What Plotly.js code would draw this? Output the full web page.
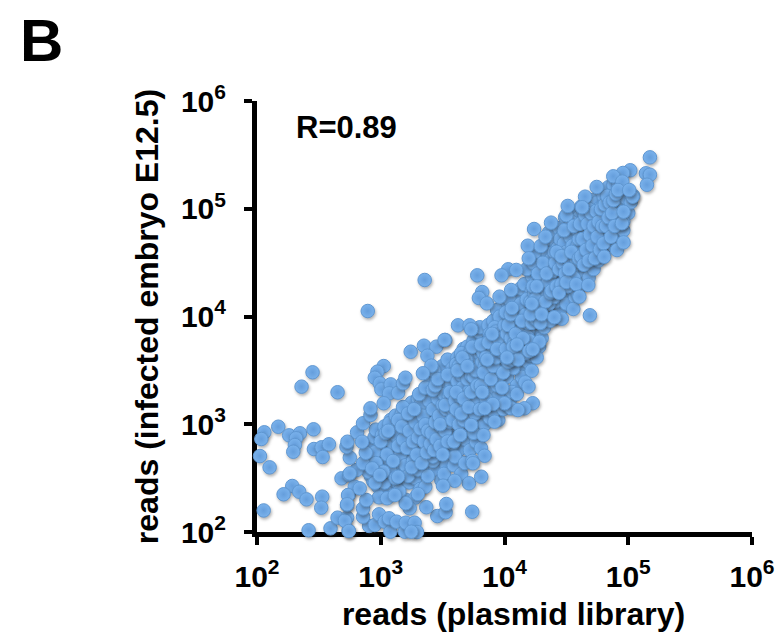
<!DOCTYPE html>
<html>
<head>
<meta charset="utf-8">
<script src="https://cdn.plot.ly/plotly-3.0.1.min.js"></script>
<style>
html,body{margin:0;padding:0;background:#fff}
#chart{width:778px;height:633px}
.scatterlayer path.point{filter:drop-shadow(1px 2px 1.6px rgba(40,40,40,.36))}
</style>
</head>
<body>
<div id="chart"></div>
<script>
// log10(reads), plasmid library (x) and infected embryo E12.5 (y)
const outlierPlasmidLog = [
2.449,2.360,2.651,2.172,2.059,2.035,2.260,2.347,2.315,2.306,2.293,2.457,2.460,2.522,2.581,2.530,2.024,2.102,2.285,2.215,
2.341,2.400,2.527,2.519,2.054,2.417,2.594,2.740,2.651,2.728,2.710,2.728,2.740,2.683,2.745,2.804,2.790,2.750,2.723,2.731,
2.809,2.857,2.917,2.917,3.024,2.973,2.952,2.992,3.005,3.080,3.067,3.140,3.180,3.199,3.024,3.242,3.349,3.449,3.521,3.377,
3.409,3.341,3.355,2.895,3.780,5.175,5.143,5.175,5.151,5.016,4.957,4.879,4.952,4.745,4.917,4.651,4.511,4.627,4.376,4.239,
4.188,4.293,4.331,4.196,4.030,4.095,3.976,3.820,3.793,3.857,3.960,4.054,3.624,3.718,3.731,3.516,4.690,4.556,4.677,4.463,
4.403,4.605,4.806,4.909,4.962,4.949,4.962,5.035,5.008,4.282,4.228,4.220,4.167,4.194,4.228,4.161,4.054,4.108,4.000,3.906,
3.919,3.839,3.731,3.642,3.739,3.457,3.524,3.530,3.368,3.234,3.202,3.300,2.986,3.051,3.113,3.140,2.952,3.713,3.812,3.839,
3.745,3.597,3.503,2.742,2.906,2.857,2.857,2.884,2.952,2.986,3.032,3.078,3.067,3.127,3.194,3.202,3.274,3.293,3.247,2.736,
2.728,2.750,2.830,2.857,2.930,2.992,2.879,2.849];
const outlierEmbryoLog = [
3.482,3.349,3.297,2.977,2.925,2.863,2.897,2.916,2.870,2.807,2.745,2.953,2.770,2.786,2.814,2.696,2.705,2.600,2.427,2.350,
2.374,2.303,2.328,2.226,2.200,2.016,2.034,2.012,2.133,2.133,2.105,2.250,2.343,2.498,2.529,2.575,2.420,2.690,2.792,2.838,
2.925,3.009,3.086,3.148,3.540,3.488,3.432,3.380,3.324,3.370,3.287,3.293,3.380,3.432,3.195,3.673,3.729,3.720,3.782,3.636,
3.544,3.473,4.339,4.051,4.382,5.477,5.329,5.316,5.223,5.357,5.332,5.301,5.252,5.202,5.174,5.112,5.026,5.014,4.871,4.812,
4.657,4.654,4.741,4.540,4.438,4.432,4.382,4.227,4.172,4.122,4.184,4.246,3.918,3.918,3.881,3.782,4.011,4.070,4.292,3.980,
3.993,4.184,4.555,4.617,4.688,4.865,4.973,5.112,5.174,3.766,3.696,3.497,3.389,3.349,3.195,3.148,3.148,3.132,3.195,3.188,
3.024,3.148,2.993,2.900,2.188,2.148,2.183,2.260,2.230,2.220,2.267,2.353,2.322,2.313,2.343,2.513,2.458,2.452,2.513,2.708,
2.638,2.476,2.430,2.009,2.056,2.142,2.219,2.297,2.065,2.164,2.096,2.003,2.127,2.096,2.003,2.086,2.086,2.000,2.003,2.343,
2.257,2.544,2.405,2.638,2.591,2.529,2.736,2.838];

const corePlasmidLog = [
2.88,2.90,2.93,2.95,2.97,2.99,2.92,2.96,3.00,2.94,2.98,3.01,
3.02,3.03,3.04,3.05,3.06,3.07,3.08,3.09,3.10,3.11,3.12,3.04,3.07,3.10,3.03,3.12,
3.13,3.14,3.15,3.16,3.17,3.18,3.19,3.20,3.21,3.22,3.23,3.24,3.25,3.15,3.18,3.21,3.24,3.14,
3.26,3.27,3.28,3.29,3.30,3.31,3.32,3.33,3.34,3.35,3.36,3.37,3.38,3.39,3.40,3.28,3.32,3.36,3.27,3.31,3.35,3.39,
3.41,3.42,3.43,3.44,3.45,3.46,3.47,3.48,3.49,3.50,3.51,3.52,3.53,3.54,3.55,3.43,3.46,3.49,3.52,3.55,3.42,3.45,3.48,3.51,3.54,
3.56,3.57,3.58,3.59,3.60,3.61,3.62,3.63,3.64,3.65,3.66,3.67,3.68,3.69,3.70,3.58,3.61,3.64,3.67,3.70,3.57,3.60,3.63,3.66,3.69,3.59,3.62,3.65,3.68,
3.71,3.72,3.73,3.74,3.75,3.76,3.77,3.78,3.79,3.80,3.81,3.82,3.83,3.84,3.85,3.72,3.75,3.78,3.81,3.84,3.73,3.76,3.79,3.82,3.85,3.74,3.77,3.80,3.83,
3.86,3.87,3.88,3.89,3.90,3.91,3.92,3.93,3.94,3.95,3.96,3.97,3.98,3.99,4.00,3.88,3.91,3.94,3.97,4.00,3.87,3.90,3.93,3.96,3.99,3.89,3.92,3.95,3.98,
4.01,4.02,4.03,4.04,4.05,4.06,4.07,4.08,4.09,4.10,4.11,4.12,4.13,4.14,4.15,4.03,4.06,4.09,4.12,4.15,4.02,4.05,4.08,4.11,4.14,4.04,4.07,4.10,4.13,
4.16,4.17,4.18,4.19,4.20,4.21,4.22,4.23,4.24,4.25,4.26,4.27,4.28,4.29,4.30,4.18,4.21,4.24,4.27,4.30,4.17,4.20,4.23,4.26,4.29,4.19,4.22,4.25,4.28,
4.31,4.32,4.33,4.34,4.35,4.36,4.37,4.38,4.39,4.40,4.41,4.42,4.43,4.44,4.45,4.33,4.36,4.39,4.42,4.45,4.32,4.35,4.38,4.41,4.44,4.34,4.37,4.40,4.43,
4.46,4.47,4.48,4.49,4.50,4.51,4.52,4.53,4.54,4.55,4.56,4.57,4.58,4.59,4.60,4.48,4.51,4.54,4.57,4.60,4.47,4.50,4.53,4.56,4.59,
4.61,4.62,4.63,4.64,4.65,4.66,4.67,4.68,4.69,4.70,4.71,4.72,4.73,4.74,4.75,4.76,4.77,4.78,4.79,4.80,4.64,4.68,4.72,4.76,4.80,
4.81,4.82,4.83,4.84,4.85,4.86,4.87,4.88,4.89,4.90,4.91,4.92,4.93,4.94,4.95,4.96,4.97,4.98,5.00,5.02,5.04,4.84,4.88,4.92,4.96];
const coreEmbryoLog = [
2.66,2.82,2.72,2.88,2.60,2.78,2.52,2.95,2.68,2.47,2.42,2.90,
2.62,2.98,2.78,2.50,2.86,2.68,3.04,2.40,2.92,2.58,2.74,2.38,3.01,2.82,2.46,3.08,
2.96,2.64,2.44,2.84,3.10,2.54,2.74,2.30,3.00,2.90,2.46,2.68,3.20,2.38,3.16,2.58,2.80,3.04,
3.08,2.86,2.50,2.96,3.24,2.66,2.40,3.02,2.78,3.30,2.56,2.90,3.14,2.70,3.38,2.32,3.18,2.42,2.74,2.92,2.62,3.00,
3.06,2.84,3.26,2.58,3.44,2.96,2.70,3.16,2.48,3.54,2.88,3.34,2.62,3.08,2.76,3.50,2.86,3.22,3.00,3.42,2.66,3.12,3.36,2.54,3.60,
3.20,2.92,3.52,2.62,3.32,3.04,3.62,2.76,3.44,2.54,3.12,3.70,2.86,3.26,2.96,2.82,3.56,3.18,3.40,3.72,3.10,2.70,3.36,3.50,3.06,3.00,3.24,3.66,2.64,
3.42,2.76,3.58,3.16,3.78,3.30,2.84,3.66,3.02,3.50,2.78,3.82,3.24,3.40,3.74,3.10,2.92,3.48,3.62,3.00,3.70,3.22,3.86,3.12,3.54,2.66,3.36,3.90,2.90,
3.30,3.92,3.06,3.66,3.46,3.96,3.18,3.74,3.56,3.04,3.88,3.38,4.02,3.62,3.28,3.84,3.12,4.06,3.50,3.78,3.20,3.70,3.42,4.00,3.14,3.54,3.90,3.26,3.68,
3.92,3.44,4.10,3.68,3.24,3.86,4.14,3.56,3.98,3.36,3.76,4.20,3.50,4.04,3.66,3.82,3.30,4.22,3.62,3.94,3.18,3.72,4.06,3.90,3.44,4.16,3.52,3.28,4.26,
4.30,3.80,4.00,3.58,4.18,3.90,4.38,3.70,4.10,3.84,4.46,3.96,3.72,4.24,4.52,4.44,3.64,4.30,4.06,3.80,4.12,3.98,4.50,3.62,4.36,3.88,4.24,4.60,4.04,
4.16,3.90,4.42,4.66,4.02,4.28,4.72,4.10,4.54,3.98,4.36,4.78,4.20,4.62,4.06,4.50,4.78,4.24,4.68,4.44,4.00,4.58,4.34,4.14,4.82,4.08,3.96,4.48,4.30,
4.74,4.22,4.56,4.92,4.12,4.40,4.84,4.64,4.26,4.96,4.48,4.18,4.78,4.36,4.92,4.32,4.70,4.88,4.58,4.42,4.60,4.94,4.30,4.72,4.22,
4.66,5.02,4.30,4.84,4.48,5.04,4.74,4.36,4.92,4.58,5.08,4.44,4.80,4.62,5.06,4.52,4.90,4.72,4.58,5.12,4.98,5.00,4.96,5.00,4.86,
4.64,4.98,4.78,5.10,4.70,4.90,5.16,4.66,5.02,4.82,5.14,4.74,5.06,4.92,5.18,4.80,5.02,5.10,4.96,5.06,5.12,5.20,5.22,5.24,4.88];

const ridgePlasmidLog = [
2.90,2.95,3.00,3.05,3.08,3.12,3.16,3.20,3.24,3.28,3.04,3.10,3.14,3.18,3.22,3.26,3.30,3.34,3.38,3.42,2.96,3.02,3.06,3.12,3.17,
3.21,3.23,3.25,3.26,3.28,3.29,3.30,3.32,3.33,3.34,3.35,3.36,3.37,3.38,3.39,3.40,3.22,3.27,3.31,3.36,
3.41,3.42,3.43,3.44,3.45,3.46,3.47,3.48,3.49,3.50,3.51,3.52,3.53,3.54,3.55,3.56,3.57,3.58,3.59,3.60,3.42,3.44,3.46,3.48,3.50,3.52,3.54,3.56,3.58,3.60,
3.61,3.62,3.63,3.64,3.65,3.66,3.67,3.68,3.69,3.70,3.71,3.72,3.73,3.74,3.75,3.76,3.77,3.78,3.79,3.80,3.61,3.63,3.65,3.67,3.69,3.71,3.73,3.75,3.77,3.79,3.62,3.66,3.70,3.74,3.78,3.80,
3.81,3.82,3.83,3.84,3.85,3.86,3.87,3.88,3.89,3.90,3.91,3.92,3.93,3.94,3.95,3.96,3.97,3.98,3.99,4.00,3.81,3.83,3.85,3.87,3.89,3.91,3.93,3.95,3.97,3.99,3.82,3.86,3.90,3.94,3.98,4.00,
4.01,4.02,4.03,4.04,4.05,4.06,4.07,4.08,4.09,4.10,4.11,4.12,4.13,4.14,4.15,4.16,4.17,4.18,4.19,4.20,4.01,4.03,4.05,4.07,4.09,4.11,4.13,4.15,4.17,4.19,4.02,4.06,4.10,4.14,4.18,4.20,
4.21,4.22,4.23,4.24,4.25,4.26,4.27,4.28,4.29,4.30,4.31,4.32,4.33,4.34,4.35,4.36,4.37,4.38,4.39,4.40,4.21,4.23,4.25,4.27,4.29,4.31,4.33,4.35,4.37,4.39,4.22,4.26,4.30,4.34,4.38,4.40,
4.41,4.42,4.43,4.44,4.45,4.46,4.47,4.48,4.49,4.50,4.51,4.52,4.53,4.54,4.55,4.56,4.57,4.58,4.59,4.60,4.42,4.44,4.46,4.48,4.50,4.52,4.54,4.56,4.58,4.60,
4.61,4.62,4.63,4.64,4.65,4.66,4.67,4.68,4.69,4.70,4.71,4.72,4.73,4.74,4.75,4.76,4.77,4.78,4.79,4.80,4.81,4.82,4.83,4.84,4.85,4.86,4.87,4.88,4.89,4.90];
const ridgeEmbryoLog = [
2.56,2.74,2.84,2.72,2.56,2.90,2.72,2.62,2.92,2.76,2.92,2.66,2.80,2.86,2.52,2.66,2.58,2.90,2.52,2.70,2.64,2.56,2.94,2.50,2.98,
2.78,2.94,2.60,2.84,3.02,2.72,2.88,2.96,2.64,3.08,2.84,3.00,2.74,2.94,3.22,2.82,3.10,3.14,3.28,3.34,
2.92,3.14,2.76,3.02,2.86,3.24,3.08,2.80,2.98,3.18,3.28,2.94,3.14,2.84,3.26,3.02,3.38,3.14,2.84,3.46,3.32,3.36,3.42,3.00,2.72,3.18,3.46,3.30,3.04,3.22,
3.14,3.40,3.00,3.26,3.46,3.34,3.04,3.54,3.18,3.42,3.30,3.66,3.46,3.30,3.56,3.10,3.62,3.24,3.40,3.66,3.30,3.54,3.10,3.24,3.60,3.16,3.30,3.44,3.50,3.72,3.50,3.62,3.54,3.72,3.36,3.14,
3.36,3.58,3.66,3.54,3.24,3.76,3.50,3.60,3.82,3.58,3.70,3.44,3.86,3.36,3.72,3.46,3.84,3.58,3.78,3.62,3.74,3.48,3.62,3.76,3.42,3.54,3.62,3.80,3.68,3.48,3.30,3.60,3.84,3.70,3.34,3.92,
3.70,3.84,3.58,3.96,3.80,3.60,3.90,3.76,3.64,4.02,3.86,3.98,3.70,3.84,4.08,3.92,3.66,3.82,4.12,3.78,4.04,3.92,4.02,3.72,3.84,3.60,4.12,3.80,4.02,3.94,3.62,4.08,3.74,3.96,4.16,3.68,
4.14,3.94,4.06,4.22,3.98,4.18,4.30,4.12,3.94,4.24,4.36,4.10,4.26,4.18,4.48,4.12,4.38,4.54,4.30,4.18,4.02,4.28,4.16,4.40,4.08,4.50,4.14,4.32,4.22,4.42,4.12,4.28,4.02,4.40,4.24,4.60,
4.50,4.28,4.64,4.44,4.72,4.30,4.50,4.68,4.40,4.60,4.28,4.54,4.74,4.44,4.66,4.36,4.82,4.52,4.66,4.72,4.60,4.22,4.56,4.80,4.32,4.44,4.60,4.84,4.30,4.54,
4.86,4.56,4.72,4.48,4.94,4.62,4.86,4.52,4.76,4.96,4.66,4.84,4.54,4.98,4.74,4.88,4.62,5.00,4.84,4.68,5.04,4.84,5.12,4.92,5.06,4.74,4.96,5.08,4.84,5.14];

const tickValues = [100,1000,10000,100000,1000000];
const tickLabels = ['10<sup>2</sup>','10<sup>3</sup>','10<sup>4</sup>','10<sup>5</sup>','10<sup>6</sup>'];

const toReads = a => a.map(v => Math.pow(10, v));
const FONT = '"Liberation Sans", Arial, sans-serif';
const textFont = s => ({family: FONT, size: s, color: '#000', weight: 700});

const axis = {
  type: 'log', range: [2, 6], tickmode: 'array', tickvals: tickValues, ticktext: tickLabels,
  ticks: 'outside', ticklen: 8, tickwidth: 4, tickcolor: '#000',
  showline: true, linecolor: '#000', linewidth: 5, showgrid: false, zeroline: false,
  layer: 'below traces', tickfont: textFont(30), automargin: false
};

const trace = {
  type: 'scatter', mode: 'markers', cliponaxis: false, hoverinfo: 'skip',
  x: toReads(corePlasmidLog.concat(ridgePlasmidLog, outlierPlasmidLog)),
  y: toReads(coreEmbryoLog.concat(ridgeEmbryoLog, outlierEmbryoLog)),
  marker: {size: 13.5, color: '#7ab2ec', gradient: {type: 'radial', color: '#659edc'},
           line: {color: '#5f97d2', width: 1}}
};

const layout = {
  width: 778, height: 633, showlegend: false,
  paper_bgcolor: '#fff', plot_bgcolor: '#fff',
  margin: {l: 257, r: 26, t: 101, b: 101},
  xaxis: Object.assign({}, axis, {ticklabelstandoff: 6, title: {text: 'reads (plasmid library)', font: textFont(32), standoff: 12}}),
  yaxis: Object.assign({}, axis, {ticklabelstandoff: 12, title: {text: 'reads (infected embryo E12.5)', font: textFont(32), standoff: 14}}),
  annotations: [
    {text: 'B', xref: 'paper', yref: 'paper', x: -0.483, y: 1.1415, xanchor: 'left', yanchor: 'middle', showarrow: false, font: textFont(60)},
    {text: 'R=0.89', xref: 'paper', yref: 'paper', x: 0.075, y: 0.938, xanchor: 'left', yanchor: 'middle', showarrow: false, font: textFont(31)}
  ]
};

Plotly.newPlot('chart', [trace], layout, {displayModeBar: false, staticPlot: true}).then(function () {
  const t = document.querySelector('.xtitle');
  if (t) t.setAttribute('x', parseFloat(t.getAttribute('x')) + 9);
});
</script>
</body>
</html>
